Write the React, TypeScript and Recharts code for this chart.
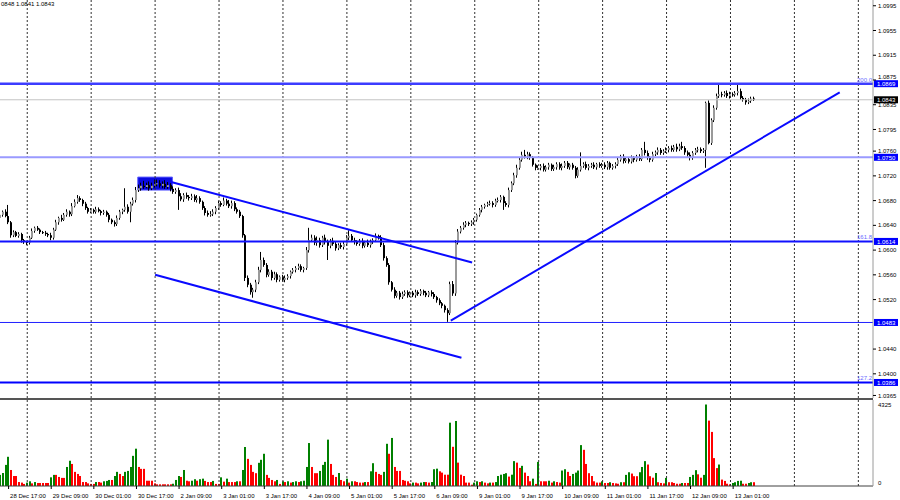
import { Bar, Cell, ComposedChart, ReferenceArea, ReferenceLine, XAxis, YAxis } from "recharts";

// EURUSD H1, 28 Dec 14:00 .. 13 Jan 09:00, prices in pips above 1.0000
const FIRST_OPEN = 652;
const CLOSE = [
  657, 662, 655, 645, 624, 629, 623, 626, 616, 613,
  612, 620, 631, 636, 633, 629, 628, 626, 624, 620,
  633, 645, 652, 649, 657, 662, 658, 671, 678, 684,
  681, 675, 668, 662,
  665, 662, 666, 663, 660, 662, 657, 649, 645, 642, 652, 662, 665, 670, 662, 675, 681, 697, 700, 704, 702, 705, 700, 704,
  707, 708, 704, 707, 702, 705, 699, 694, 697, 687, 682, 689, 686, 684, 687, 681, 684, 678, 668, 660, 657, 658, 662, 668,
  676, 673, 680, 675, 671, 676, 666, 662, 655, 624, 555, 544, 532, 536, 548, 568, 584, 576, 560, 565, 555, 561, 552, 557,
  552, 555, 558, 565, 568, 571, 574, 568, 571, 600, 616, 620, 612, 616, 608, 620, 613, 607, 615, 610, 603, 608, 605, 610,
  620, 623, 616, 613, 610, 615, 607, 612, 608, 613, 616, 623, 621, 608, 587, 576, 548, 536, 526, 531, 524, 529, 532, 527,
  531, 527, 532, 529, 534, 531, 527, 532, 529, 524, 519, 514, 510, 503, 498, 545, 530, 612, 630, 636, 641, 644, 642, 645,
  649, 657, 665, 670, 673, 675, 676, 673, 680, 681, 686, 676, 673, 697, 708, 721, 733, 746, 754, 751, 755, 749, 738, 733,
  733, 736, 730, 734, 738, 731, 734, 739, 733, 736, 741, 734, 738, 733, 720, 730, 736, 739, 733, 736, 738, 734, 739, 736,
  738, 734, 741, 733, 736, 739, 746, 751, 744, 747, 743, 749, 746, 751, 747, 762, 757, 749, 746, 755, 758, 762, 757, 760,
  762, 765, 762, 767, 763, 768, 765, 758, 754, 749, 757, 762, 763, 760, 762, 838, 773, 810, 830, 849, 852, 851, 854, 849,
  852, 851, 854, 857, 846, 843, 839, 841, 845, 843,
];
const UP_WICK = [
  3, 2, 4, 18, 2, 3, 2, 3, 2, 2, 2, 3, 4, 2, 3, 2, 2, 3, 2, 4,
  3, 4, 2, 5, 3, 4, 2, 5, 4, 5, 3, 2, 3, 2, 3, 2, 4, 3, 2, 3,
  2, 3, 2, 3, 4, 3, 2, 30, 4, 3, 4, 5, 6, 5, 8, 4, 6, 5, 7, 6,
  5, 4, 6, 5, 3, 4, 3, 4, 5, 3, 4, 3, 4, 3, 5, 3, 2, 3, 4, 5,
  4, 3, 4, 3, 5, 3, 6, 4, 3, 3, 3, 2, 2, 4, 3, 3, 4, 5, 13, 4,
  3, 4, 3, 4, 3, 2, 3, 4, 3, 2, 3, 3, 4, 3, 2, 5, 20, 5, 4, 6,
  4, 3, 5, 4, 3, 5, 4, 3, 4, 3, 4, 9, 3, 4, 3, 3, 4, 3, 5, 4,
  3, 4, 2, 3, 4, 3, 3, 2, 4, 3, 3, 4, 3, 3, 2, 3, 4, 3, 3, 2,
  3, 2, 3, 3, 2, 3, 2, 2, 3, 4, 5, 4, 4, 3, 4, 3, 2, 3, 3, 2,
  3, 3, 2, 3, 4, 3, 3, 4, 3, 2, 3, 4, 3, 4, 5, 4, 5, 8, 4, 3,
  3, 2, 4, 3, 4, 3, 3, 2, 4, 3, 3, 4, 3, 3, 2, 3, 3, 4, 22, 3,
  4, 3, 3, 4, 2, 3, 3, 4, 3, 2, 3, 3, 4, 3, 4, 3, 3, 4, 3, 3,
  4, 3, 13, 4, 3, 4, 3, 4, 3, 3, 4, 3, 4, 3, 5, 4, 7, 3, 3, 4,
  3, 3, 4, 3, 3, 2, 4, 3, 4, 4, 17, 4, 3, 4, 4, 3, 3, 12, 4, 3,
  3, 4, 3, 3,
];
const DOWN_WICK = [
  2, 3, 2, 3, 4, 3, 2, 3, 4, 3, 4, 3, 2, 3, 2, 3, 2, 3, 3, 4,
  3, 2, 4, 3, 2, 3, 4, 3, 2, 3, 3, 4, 3, 3, 2, 3, 3, 2, 4, 3,
  3, 4, 3, 4, 3, 3, 4, 3, 3, 17, 3, 4, 3, 4, 3, 2, 4, 3, 3, 4,
  3, 4, 3, 3, 4, 3, 3, 22, 3, 4, 3, 4, 3, 3, 4, 3, 3, 4, 3, 3,
  3, 4, 3, 3, 2, 3, 3, 4, 3, 3, 3, 4, 5, 4, 4, 9, 4, 3, 4, 3,
  4, 3, 4, 3, 4, 3, 3, 4, 3, 4, 3, 4, 3, 3, 4, 3, 4, 3, 4, 5,
  4, 3, 4, 23, 4, 3, 4, 3, 3, 4, 3, 4, 3, 4, 3, 3, 4, 3, 3, 4,
  3, 3, 4, 3, 4, 3, 4, 3, 4, 3, 4, 3, 3, 4, 3, 3, 4, 3, 3, 4,
  3, 3, 4, 3, 4, 3, 4, 4, 14, 3, 4, 4, 3, 3, 3, 4, 3, 3, 4, 3,
  3, 4, 3, 3, 3, 4, 3, 3, 4, 11, 3, 4, 3, 3, 4, 3, 3, 3, 4, 3,
  3, 4, 3, 4, 3, 3, 4, 3, 3, 4, 3, 4, 3, 3, 4, 3, 4, 3, 3, 3,
  3, 4, 3, 3, 4, 3, 3, 3, 4, 3, 3, 4, 3, 3, 4, 3, 3, 3, 4, 3,
  3, 3, 4, 3, 4, 3, 3, 4, 3, 3, 3, 4, 3, 3, 4, 3, 3, 4, 3, 4,
  3, 3, 4, 3, 3, 29, 2, 3, 3, 3, 3, 4, 3, 3, 4, 3, 3, 4, 3, 3,
  4, 3, 3, 2,
];
const VOLUME = [
  590, 690, 1120, 1550, 850, 530, 530, 210, 180, 110,
  180, 250, 140, 210, 160, 160, 160, 160, 160, 460,
  590, 590, 480, 430, 430, 1010, 1340, 1170, 750, 640,
  530, 210, 210, 140, 110, 110, 210, 210, 180, 250,
  270, 320, 320, 530, 750, 640, 530, 750, 800, 1010,
  1600, 1980, 1010, 910, 910, 280, 280, 280, 140, 90,
  90, 90, 90, 90, 90, 120, 320, 530, 480, 850,
  280, 250, 280, 360, 280, 360, 390, 270, 210, 210,
  270, 110, 110, 460, 230, 390, 210, 210, 210, 250,
  250, 850, 2070, 1440, 1120, 750, 680, 1230, 1390, 1710,
  590, 430, 320, 250, 320, 110, 250, 210, 250, 180,
  210, 250, 210, 250, 280, 1010, 2280, 1010, 680, 680,
  800, 1120, 1280, 2460, 1170, 590, 480, 690, 320, 250,
  390, 180, 250, 250, 210, 180, 180, 210, 210, 780,
  1210, 750, 640, 590, 750, 2240, 1710, 2550, 1010, 800,
  800, 320, 280, 250, 140, 180, 180, 140, 180, 210,
  210, 180, 210, 890, 920, 780, 710, 600, 600, 3360,
  2080, 3450, 1240, 600, 530, 180, 180, 70, 180, 250,
  210, 250, 180, 140, 180, 180, 210, 530, 600, 640,
  680, 500, 600, 1320, 1240, 960, 1070, 710, 530, 250,
  390, 110, 1280, 250, 250, 250, 280, 180, 250, 210,
  180, 820, 890, 750, 530, 640, 710, 820, 2170, 1920,
  1170, 680, 530, 250, 180, 180, 250, 160, 160, 200,
  160, 140, 120, 200, 200, 590, 730, 660, 520, 520,
  730, 1010, 1320, 1140, 520, 440, 690, 200, 160, 140,
  430, 200, 200, 160, 120, 120, 160, 160, 160, 480,
  590, 840, 620, 440, 590, 4325, 3470, 2870, 1480, 950,
  1140, 340, 270, 120, 90, 160, 200, 270, 280, 120,
  120, 160, 200, 200,
];
const TIME_LABELS = [
  "28 Dec 17:00", "29 Dec 09:00", "30 Dec 01:00", "30 Dec 17:00", "2 Jan 09:00", "3 Jan 01:00",
  "3 Jan 17:00", "4 Jan 09:00", "5 Jan 01:00", "5 Jan 17:00", "6 Jan 09:00", "9 Jan 01:00",
  "9 Jan 17:00", "10 Jan 09:00", "11 Jan 01:00", "11 Jan 17:00", "12 Jan 09:00", "13 Jan 01:00",
];
// bar index of each midnight (period separators), incl. two future days
const DAY_BARS = [10, 34, 58, 82, 106, 130, 154, 178, 202, 226, 250, 274, 298, 322];
// 1.0480 sits under the 1.0483 tag in the reference, so it is left out
const PRICE_TICKS = [
  1.0995, 1.0955, 1.0915, 1.0875, 1.0835, 1.0795, 1.076, 1.072, 1.068, 1.064,
  1.06, 1.056, 1.052, 1.044, 1.04, 1.0365,
];
const LEVEL_PRICES = [1.0869, 1.075, 1.0614, 1.0483, 1.0386];
const LEVEL_FIBS = ["200.0", "", "161.8", "", "127.2"];
const LAST_PRICE = 1.0843;
const HEADER = "0848 1.0841 1.0843";
const CHANNEL_UPPER = [{ x: 64, y: 1.071 }, { x: 177, y: 1.058 }];
const CHANNEL_LOWER = [{ x: 58, y: 1.056 }, { x: 173, y: 1.0426 }];
const TREND_UP = [{ x: 169, y: 1.0486 }, { x: 315, y: 1.0855 }];
const TOP_BOX = { from: 52, to: 64, low: 1.0697, high: 1.0718 };
const VOLUME_MAX = 4325;

const SLOTS = 328;
const FONT = "Liberation Sans, Arial, sans-serif";
const toPrice = (p: number) => 1 + p / 10000;

const data = Array.from({ length: SLOTS }, (_, i) => {
  if (i >= CLOSE.length) return { i };
  const o = i === 0 ? FIRST_OPEN : CLOSE[i - 1];
  const c = CLOSE[i];
  const h = Math.max(o, c) + UP_WICK[i];
  const l = Math.min(o, c) - DOWN_WICK[i];
  return {
    i,
    o: toPrice(o),
    c: toPrice(c),
    range: [toPrice(l), toPrice(h)],
    vol: VOLUME[i],
    rising: i === 0 || VOLUME[i] > VOLUME[i - 1],
  };
});

const LEVEL_STYLE = [
  { stroke: "#3c3cff", width: 2.5 },
  { stroke: "#9a9aff", width: 2 },
  { stroke: "#1010ff", width: 2 },
  { stroke: "#2020ff", width: 1 },
  { stroke: "#0000ff", width: 2 },
];

const Candle = (props: any) => {
  const { x, y, width, height, payload } = props;
  if (!payload || payload.o == null) return null;
  const [lo, hi] = payload.range;
  const top = Math.min(y, y + height);
  const h = Math.abs(height);
  const toY = (p: number) => (hi === lo ? top : top + ((hi - p) / (hi - lo)) * h);
  const cx = Math.round(x + width / 2);
  const bull = payload.c >= payload.o;
  const y1 = toY(Math.max(payload.o, payload.c));
  const y2 = toY(Math.min(payload.o, payload.c));
  return (
    <g>
      <line x1={cx - 0.5} x2={cx - 0.5} y1={top} y2={top + h} stroke="#000" strokeWidth={1} />
      <rect x={cx - 1} y={y1} width={2} height={Math.max(1, y2 - y1)} fill={bull ? "#9a9a9a" : "#000"} />
    </g>
  );
};

const VolumeBar = (props: any) => {
  const { x, y, width, height, fill } = props;
  if (!height) return null;
  const cx = Math.round(x + width / 2);
  return <rect x={cx - 1} y={y} width={2} height={height} fill={fill} />;
};

const PriceTag = (props: any) => {
  const { viewBox, tag, bg, fib } = props;
  if (!viewBox) return null;
  const right = viewBox.x + viewBox.width;
  const y = viewBox.y;
  return (
    <g fontFamily={FONT} fontSize={6}>
      {fib ? (
        <text x={right - 1} y={y - 2} textAnchor="end" fill="#6a6aff">
          {fib}
        </text>
      ) : null}
      <rect x={right + 1} y={y - 3.5} width={24} height={7} fill={bg} />
      <text x={right + 4} y={y + 2.2} fill="#fff">
        {tag}
      </text>
    </g>
  );
};

// price labels; the one right above the 1.0869 tag is lifted clear of it
const PriceTick = (props: any) => {
  const { x, y, payload } = props;
  const lift = Math.abs(payload.value - 1.0875) < 1e-6 ? -3.5 : 0;
  return (
    <text x={x} y={y + 2.1 + lift} fontSize={6} fontFamily={FONT} fill="#000">
      {payload.value.toFixed(4)}
    </text>
  );
};

const TimeTick = (props: any) => {
  const { x, y, payload } = props;
  const j = (payload.value - 3) / 16;
  return (
    <text x={x + 1.5} y={y + 7} fontSize={6} fontFamily={FONT} fill="#000">
      {TIME_LABELS[j]}
    </text>
  );
};

const VolumeTick = (props: any) => {
  const { x, y, payload } = props;
  return (
    <text x={x} y={y + (payload.value === 0 ? -1.5 : 2)} fontSize={6} fontFamily={FONT} fill="#000">
      {payload.value}
    </text>
  );
};

const MARGIN = { top: 0, right: 0, bottom: 0, left: -0.73 };

export default function App() {
  return (
    <div style={{ position: "absolute", left: 0, top: 0, width: 900, height: 500, background: "#fff", overflow: "hidden" }}>
      <ComposedChart width={900} height={398} data={data} margin={MARGIN} style={{ position: "absolute", left: 0, top: 0 }}>
        <XAxis dataKey="i" hide />
        <YAxis
          orientation="right"
          type="number"
          domain={[1.03609, 1.10043]}
          allowDataOverflow
          ticks={PRICE_TICKS}
          interval={0}
          width={27}
          tickSize={3}
          tickMargin={2}
          tick={<PriceTick />}
          tickLine={{ stroke: "#000" }}
          axisLine={{ stroke: "#9a9a9a" }}
        />
        {DAY_BARS.map((d) => (
          <ReferenceLine key={d} x={d} stroke="#303030" strokeDasharray="2 2" strokeWidth={1} />
        ))}
        <ReferenceArea
          x1={TOP_BOX.from}
          x2={TOP_BOX.to}
          y1={TOP_BOX.low}
          y2={TOP_BOX.high}
          fill="#0a0ae0"
          fillOpacity={1}
          stroke="#5a5aff"
        />
        <ReferenceLine y={LAST_PRICE} stroke="#c4c4c4" strokeWidth={1} label={<PriceTag tag={LAST_PRICE.toFixed(4)} bg="#000" />} />
        {LEVEL_PRICES.map((p, k) => (
          <ReferenceLine
            key={p}
            y={p}
            stroke={LEVEL_STYLE[k].stroke}
            strokeWidth={LEVEL_STYLE[k].width}
            label={<PriceTag tag={p.toFixed(4)} bg="#0000ff" fib={LEVEL_FIBS[k]} />}
          />
        ))}
        <Bar dataKey="range" barSize={2} shape={<Candle />} isAnimationActive={false} />
        <ReferenceLine segment={CHANNEL_UPPER} stroke="#0a0aff" strokeWidth={2} ifOverflow="visible" />
        <ReferenceLine segment={CHANNEL_LOWER} stroke="#0a0aff" strokeWidth={2} ifOverflow="visible" />
        <ReferenceLine segment={TREND_UP} stroke="#0a0aff" strokeWidth={2} ifOverflow="visible" />
      </ComposedChart>

      <div style={{ position: "absolute", left: 0, top: 398, width: 873, height: 2, background: "#555" }} />

      <ComposedChart width={900} height={100} data={data} margin={MARGIN} style={{ position: "absolute", left: 0, top: 400 }}>
        <XAxis
          dataKey="i"
          ticks={TIME_LABELS.map((_, j) => 3 + 16 * j)}
          interval={0}
          height={14}
          tickSize={3}
          tick={<TimeTick />}
          tickLine={{ stroke: "#000" }}
          axisLine={{ stroke: "#404040" }}
        />
        <YAxis
          orientation="right"
          type="number"
          domain={[0, 4564]}
          ticks={[0, VOLUME_MAX]}
          interval={0}
          width={27}
          tickSize={3}
          tickMargin={2}
          tick={<VolumeTick />}
          tickLine={false}
          axisLine={{ stroke: "#9a9a9a" }}
        />
        {DAY_BARS.map((d) => (
          <ReferenceLine key={d} x={d} stroke="#303030" strokeDasharray="2 2" strokeWidth={1} />
        ))}
        <Bar dataKey="vol" barSize={2} shape={<VolumeBar />} isAnimationActive={false}>
          {data.map((d: any) => (
            <Cell key={d.i} fill={d.rising ? "#008000" : "#ff0000"} />
          ))}
        </Bar>
      </ComposedChart>

      <div style={{ position: "absolute", left: 1, top: 1, fontSize: 6, fontFamily: FONT, color: "#000", whiteSpace: "nowrap" }}>
        {HEADER}
      </div>
    </div>
  );
}
